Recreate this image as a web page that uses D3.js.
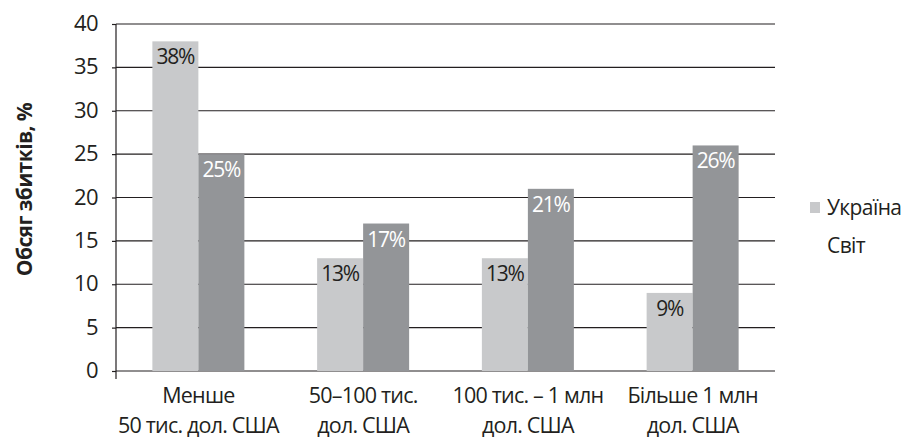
<!DOCTYPE html>
<html>
<head>
<meta charset="utf-8">
<script src="https://cdn.jsdelivr.net/npm/d3@7"></script>
<style>
  html, body { margin: 0; padding: 0; background: #fff; }
  svg { display: block; font-family: "Open Sans", "Noto Sans", sans-serif; }
</style>
</head>
<body>
<svg id="chart" width="906" height="444"></svg>
<script>
// Category labels (two lines each)
const categories = [
  ["Менше", "50 тис. дол. США"],
  ["50–100 тис.", "дол. США"],
  ["100 тис. – 1 млн", "дол. США"],
  ["Більше 1 млн", "дол. США"]
];
const seriesNames = ["Україна", "Світ"];
const ukraine = [38, 13, 13, 9];
const world = [25, 17, 21, 26];
const yTicks = [0, 5, 10, 15, 20, 25, 30, 35, 40];
const yTitle = "Обсяг збитків, %";

const colors = ["#c8c9cb", "#939598"];
const labelColors = ["#231f20", "#ffffff"];

const svg = d3.select("#chart");
const margin = { left: 116, right: 131, top: 24, bottom: 73 };
const W = 906, H = 444;
const innerW = W - margin.left - margin.right;
const innerH = H - margin.top - margin.bottom;

const g = svg.append("g").attr("transform", `translate(${margin.left},${margin.top})`);

const x0 = d3.scaleBand().domain(d3.range(categories.length)).range([0, innerW]).paddingInner(0).paddingOuter(0);
const x1 = d3.scaleBand().domain([0, 1]).range([x0.bandwidth() / 2 - 46, x0.bandwidth() / 2 + 46]);
const y = d3.scaleLinear().domain([0, 40]).range([innerH, 0]);

// Gridlines
g.append("g").selectAll("line").data(yTicks).join("line")
  .attr("x1", 0).attr("x2", innerW)
  .attr("y1", d => y(d)).attr("y2", d => y(d))
  .attr("stroke", "#231f20").attr("stroke-width", 1.2);

// Bars
const data = categories.map((c, i) => [ukraine[i], world[i]]);
const groups = g.append("g").selectAll("g").data(data).join("g")
  .attr("transform", (d, i) => `translate(${x0(i)},0)`);

groups.selectAll("rect").data(d => d.map((v, s) => ({ v, s }))).join("rect")
  .attr("x", d => x1(d.s))
  .attr("width", x1.bandwidth())
  .attr("y", d => y(d.v))
  .attr("height", d => y(0) - y(d.v))
  .attr("fill", d => colors[d.s]);

groups.selectAll("text").data(d => d.map((v, s) => ({ v, s }))).join("text")
  .attr("x", d => x1(d.s) + x1.bandwidth() / 2)
  .attr("y", d => y(d.v) + 23)
  .attr("text-anchor", "middle")
  .attr("font-size", 21)
  .attr("letter-spacing", -1.2)
  .attr("fill", d => labelColors[d.s])
  .text(d => d.v + "%");

// Y axis
const yAxis = g.append("g").call(d3.axisLeft(y).tickValues(yTicks).tickSize(4).tickPadding(14));
yAxis.select(".domain").remove();
yAxis.selectAll(".tick line").attr("stroke", "#231f20").attr("stroke-width", 1.2);
yAxis.selectAll(".tick text").attr("font-size", 22).attr("fill", "#231f20")
  .attr("font-family", "'Open Sans', sans-serif").attr("letter-spacing", -0.6)
  .attr("dy", "0.3em");

g.append("line").attr("x1", 0).attr("x2", 0).attr("y1", 0).attr("y2", innerH + 8)
  .attr("stroke", "#231f20").attr("stroke-width", 1.2);

// X category labels
const xl = g.append("g").selectAll("text").data(categories).join("text")
  .attr("text-anchor", "middle")
  .attr("font-size", 21.5)
  .attr("letter-spacing", -0.8)
  .attr("fill", "#231f20")
  .attr("transform", (d, i) => `translate(${x0(i) + x0.bandwidth() / 2},0)`);
xl.selectAll("tspan").data(d => d).join("tspan")
  .attr("x", 0)
  .attr("y", (d, j) => innerH + 32 + j * 30)
  .text(d => d);

// Y title
svg.append("text")
  .attr("transform", `translate(32,${margin.top + innerH / 2 - 8}) rotate(-90)`)
  .attr("text-anchor", "middle")
  .attr("font-size", 21)
  .attr("font-weight", "bold")
  .attr("letter-spacing", -0.6)
  .attr("fill", "#231f20")
  .text(yTitle);

// Legend
const legend = svg.append("g").attr("transform", "translate(810,0)");
const li = legend.selectAll("g").data(seriesNames).join("g")
  .attr("transform", (d, i) => `translate(0,${215 + i * 38})`);
li.append("rect").attr("x", 0).attr("y", -13).attr("width", 10).attr("height", 11)
  .attr("fill", (d, i) => i === 0 ? colors[0] : "none");
li.append("text").attr("x", 17).attr("y", 0).attr("font-size", 21).attr("letter-spacing", -0.6)
  .attr("fill", "#231f20").text(d => d);
</script>
</body>
</html>
